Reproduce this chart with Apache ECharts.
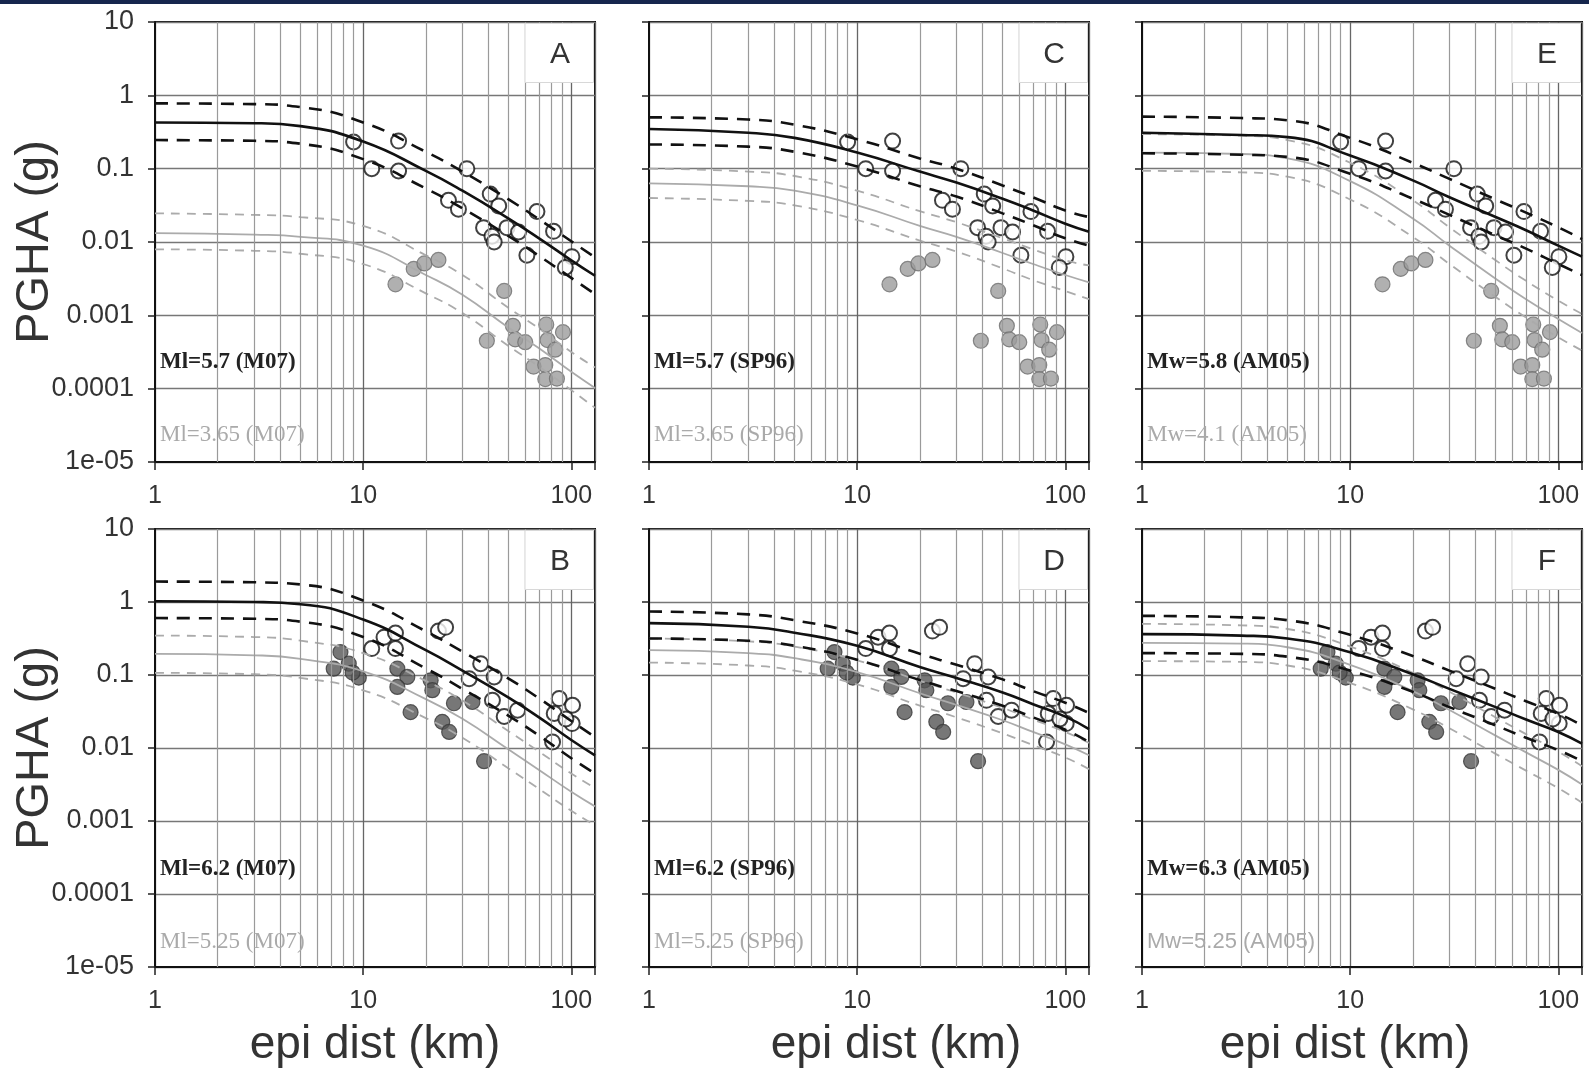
<!DOCTYPE html>
<html><head><meta charset="utf-8">
<script src="https://cdn.jsdelivr.net/npm/echarts@6/dist/echarts.min.js"></script>
<style>html,body{margin:0;padding:0;background:#fff}#c{width:1589px;height:1069px}</style>
</head><body><div id="c"></div>
<script>
// ---------- axis / tick data ----------
const DIST = [1, 3, 5, 10, 20, 30, 50, 70, 100, 130];           // km, where curves were read
const MINOR_X = [2, 3, 4, 5, 6, 7, 8, 9, 20, 30, 40, 50, 60, 70, 80, 90];
const X_TICKS = ['1', '10', '100'];
const Y_TICKS = ['10', '1', '0.1', '0.01', '0.001', '0.0001', '1e-05'];

// ---------- prediction curves: log10(PGHA [g]) at DIST ----------
// Panel A (M07, Ml=5.7 black / Ml=3.65 gray)
const A_blk_up  = [-0.11, -0.12, -0.16, -0.37, -0.77, -1.04, -1.42, -1.69, -1.99, -2.21];
const A_blk_mid = [-0.37, -0.38, -0.42, -0.63, -1.03, -1.30, -1.68, -1.95, -2.25, -2.46];
const A_blk_lo  = [-0.61, -0.62, -0.66, -0.87, -1.27, -1.54, -1.92, -2.19, -2.49, -2.71];
const A_gry_up  = [-1.61, -1.63, -1.66, -1.78, -2.18, -2.45, -2.90, -3.18, -3.50, -3.71];
const A_gry_mid = [-1.88, -1.90, -1.93, -2.05, -2.45, -2.72, -3.17, -3.45, -3.77, -3.99];
const A_gry_lo  = [-2.10, -2.12, -2.16, -2.30, -2.70, -2.97, -3.42, -3.70, -4.02, -4.26];
// Panel B (M07, Ml=6.2 / Ml=5.25)
const B_blk_up  = [0.28, 0.27, 0.24, 0.02, -0.40, -0.68, -1.05, -1.32, -1.63, -1.85];
const B_blk_mid = [0.01, 0.00, -0.03, -0.24, -0.66, -0.94, -1.31, -1.58, -1.89, -2.10];
const B_blk_lo  = [-0.22, -0.23, -0.27, -0.48, -0.91, -1.19, -1.56, -1.83, -2.14, -2.35];
const B_gry_up  = [-0.46, -0.48, -0.53, -0.70, -1.08, -1.35, -1.77, -2.05, -2.35, -2.55];
const B_gry_mid = [-0.71, -0.73, -0.78, -0.95, -1.33, -1.60, -2.02, -2.30, -2.60, -2.80];
const B_gry_lo  = [-0.97, -0.99, -1.04, -1.21, -1.59, -1.86, -2.28, -2.56, -2.86, -3.06];
// Panel C (SP96, Ml=5.7 / Ml=3.65)
const C_blk_up  = [-0.30, -0.33, -0.40, -0.60, -0.86, -1.00, -1.23, -1.39, -1.57, -1.66];
const C_blk_mid = [-0.46, -0.51, -0.58, -0.78, -1.04, -1.19, -1.41, -1.57, -1.75, -1.86];
const C_blk_lo  = [-0.67, -0.70, -0.77, -0.97, -1.24, -1.38, -1.61, -1.77, -1.95, -2.05];
const C_gry_up  = [-1.00, -1.04, -1.10, -1.30, -1.58, -1.73, -1.95, -2.10, -2.25, -2.32];
const C_gry_mid = [-1.20, -1.24, -1.30, -1.50, -1.78, -1.93, -2.15, -2.30, -2.45, -2.55];
const C_gry_lo  = [-1.40, -1.44, -1.50, -1.70, -1.98, -2.13, -2.36, -2.52, -2.67, -2.78];
// Panel D (SP96, Ml=6.2 / Ml=5.25)
const D_blk_up  = [-0.13, -0.17, -0.25, -0.43, -0.71, -0.86, -1.06, -1.22, -1.38, -1.52];
const D_blk_mid = [-0.29, -0.34, -0.42, -0.60, -0.89, -1.04, -1.24, -1.40, -1.57, -1.74];
const D_blk_lo  = [-0.50, -0.53, -0.60, -0.79, -1.07, -1.22, -1.42, -1.58, -1.75, -1.92];
const D_gry_up  = [-0.50, -0.54, -0.61, -0.80, -1.08, -1.24, -1.45, -1.61, -1.78, -1.93];
const D_gry_mid = [-0.66, -0.70, -0.77, -0.96, -1.25, -1.41, -1.62, -1.78, -1.95, -2.10];
const D_gry_lo  = [-0.83, -0.87, -0.94, -1.13, -1.42, -1.58, -1.80, -1.96, -2.13, -2.29];
// Panel E (AM05, Mw=5.8 / Mw=4.1)
const E_blk_up  = [-0.29, -0.31, -0.34, -0.58, -0.92, -1.14, -1.42, -1.60, -1.80, -1.96];
const E_blk_mid = [-0.51, -0.54, -0.57, -0.82, -1.16, -1.39, -1.66, -1.84, -2.05, -2.20];
const E_blk_lo  = [-0.79, -0.81, -0.84, -1.07, -1.41, -1.63, -1.91, -2.09, -2.30, -2.45];
const E_gry_up  = [-0.53, -0.55, -0.61, -0.92, -1.43, -1.80, -2.25, -2.53, -2.80, -2.98];
const E_gry_mid = [-0.78, -0.80, -0.86, -1.17, -1.68, -2.05, -2.50, -2.78, -3.05, -3.24];
const E_gry_lo  = [-1.03, -1.05, -1.11, -1.42, -1.93, -2.30, -2.75, -3.03, -3.30, -3.48];
// Panel F (AM05, Mw=6.3 / Mw=5.25)
const F_blk_up  = [-0.19, -0.21, -0.25, -0.45, -0.74, -0.94, -1.19, -1.36, -1.53, -1.69];
const F_blk_mid = [-0.44, -0.46, -0.50, -0.69, -0.99, -1.19, -1.44, -1.61, -1.78, -1.94];
const F_blk_lo  = [-0.70, -0.71, -0.75, -0.94, -1.23, -1.44, -1.69, -1.86, -2.03, -2.18];
const F_gry_up  = [-0.30, -0.32, -0.37, -0.61, -0.97, -1.23, -1.58, -1.81, -2.05, -2.25];
const F_gry_mid = [-0.56, -0.57, -0.62, -0.86, -1.22, -1.48, -1.83, -2.06, -2.30, -2.50];
const F_gry_lo  = [-0.81, -0.82, -0.87, -1.11, -1.47, -1.73, -2.08, -2.31, -2.55, -2.75];

// ---------- observations (same events in every column of a row) ----------
const TOP_OPEN_D = [9.0, 14.8, 11.0, 14.8, 31.5, 25.7, 28.7, 40.8, 44.8, 37.9, 41.6, 42.6, 49.1, 55.8, 68.4, 82.2, 61.2, 100.7, 93.6];
const TOP_OPEN_V = [0.231, 0.238, 0.100, 0.093, 0.100, 0.037, 0.028, 0.045, 0.031, 0.0157, 0.012, 0.010, 0.0157, 0.0137, 0.026, 0.014, 0.0066, 0.0063, 0.0045];
const TOP_FILL_D = [14.3, 17.5, 19.7, 23.0, 47.6, 39.3, 52.4, 53.8, 60.1, 75.8, 91.2, 76.9, 83.7, 65.9, 75.0, 75.0, 85.3];
const TOP_FILL_V = [0.00265, 0.0043, 0.0051, 0.0057, 0.00215, 0.00045, 0.00072, 0.00047, 0.00043, 0.00075, 0.00059, 0.00046, 0.00034, 0.0002, 0.00021, 0.000135, 0.000137];
const BOT_OPEN_D = [23.0, 24.9, 12.6, 14.3, 11.0, 14.3, 36.7, 32.3, 42.6, 41.8, 47.6, 55.2, 87.5, 101.4, 82.8, 101, 94.2, 81.3];
const BOT_OPEN_V = [0.40, 0.45, 0.33, 0.375, 0.23, 0.23, 0.143, 0.089, 0.094, 0.045, 0.027, 0.033, 0.0475, 0.0385, 0.0297, 0.0216, 0.025, 0.0121];
const BOT_FILL_D = [7.78, 7.22, 8.53, 9.53, 8.9, 14.6, 16.3, 14.6, 21.1, 21.5, 16.9, 27.3, 33.5, 24.0, 25.9, 38.1];
const BOT_FILL_V = [0.206, 0.122, 0.143, 0.092, 0.108, 0.122, 0.094, 0.0686, 0.0845, 0.062, 0.031, 0.041, 0.0427, 0.0228, 0.0166, 0.0066];

// ---------- layout ----------
const COL_LEFT = [155, 649, 1142];
const ROW_TOP = [22, 529];
const PW = 440, PH = 440;
const XNAME_SHIFT = [0, 27, -17];   // horizontal offset of the x-axis title per column

const PANELS = [
  {id:'A', col:0, row:0, blk:[A_blk_up, A_blk_mid, A_blk_lo], gry:[A_gry_up, A_gry_mid, A_gry_lo], t1:'Ml=5.7 (M07)',  t2:'Ml=3.65 (M07)'},
  {id:'B', col:0, row:1, blk:[B_blk_up, B_blk_mid, B_blk_lo], gry:[B_gry_up, B_gry_mid, B_gry_lo], t1:'Ml=6.2 (M07)',  t2:'Ml=5.25 (M07)'},
  {id:'C', col:1, row:0, blk:[C_blk_up, C_blk_mid, C_blk_lo], gry:[C_gry_up, C_gry_mid, C_gry_lo], t1:'Ml=5.7 (SP96)', t2:'Ml=3.65 (SP96)'},
  {id:'D', col:1, row:1, blk:[D_blk_up, D_blk_mid, D_blk_lo], gry:[D_gry_up, D_gry_mid, D_gry_lo], t1:'Ml=6.2 (SP96)', t2:'Ml=5.25 (SP96)'},
  {id:'E', col:2, row:0, blk:[E_blk_up, E_blk_mid, E_blk_lo], gry:[E_gry_up, E_gry_mid, E_gry_lo], t1:'Mw=5.8 (AM05)', t2:'Mw=4.1 (AM05)'},
  {id:'F', col:2, row:1, blk:[F_blk_up, F_blk_mid, F_blk_lo], gry:[F_gry_up, F_gry_mid, F_gry_lo], t1:'Mw=6.3 (AM05)', t2:'Mw=5.25 (AM05)', t2sans:true}
];

const curve = logs => DIST.map((d, i) => [d, Math.pow(10, logs[i])]);
const pts = (ds, vs) => ds.map((d, i) => [d, vs[i]]);
const isPow = v => Math.abs(Math.log10(v) - Math.round(Math.log10(v))) < 1e-6;
const xFmt = v => isPow(v) ? (X_TICKS[Math.round(Math.log10(v))] || '') : '';
const yFmt = v => isPow(v) ? (Y_TICKS[1 - Math.round(Math.log10(v))] || '') : '';

const SANS = '"Liberation Sans", Arial, sans-serif';
const SERIF = '"Liberation Serif", "Times New Roman", serif';

const grid = [], xAxis = [], yAxis = [], series = [], graphic = [];
graphic.push({type:'rect', left:0, top:0, z:100, shape:{width:1589, height:4}, style:{fill:'#16264d'}});

PANELS.forEach((p, i) => {
  const L = COL_LEFT[p.col], T = ROW_TOP[p.row];
  const sh = XNAME_SHIFT[p.col];
  grid.push({left:L, top:T, width:PW, height:PH, show:true, borderColor:'#111', borderWidth:2, backgroundColor:'#fff'});
  xAxis.push({
    type:'log', logBase:10, min:1, max:130, gridIndex:i,
    axisLine:{show:true, lineStyle:{color:'#111', width:2}},
    axisTick:{show:true, length:8, lineStyle:{color:'#222', width:1.5}},
    axisLabel:{formatter:xFmt, color:'#333', fontSize:25, fontFamily:SANS, margin:22},
    splitLine:{show:true, lineStyle:{color:'#666', width:1.3}},
    name: p.row === 1 ? 'epi dist (km)' : '',
    nameLocation:'middle', nameGap:55, nameMoveOverlap:false,
    nameTextStyle:{fontSize:46, color:'#333', fontFamily:SANS,
      padding: sh >= 0 ? [0, 0, 0, 2 * sh] : [0, -2 * sh, 0, 0]}
  });
  yAxis.push({
    type:'log', logBase:10, min:1e-5, max:10, splitNumber:6, gridIndex:i,
    axisLine:{show:true, lineStyle:{color:'#111', width:2}},
    axisTick:{show:true, length:7, lineStyle:{color:'#222', width:1.5}},
    axisLabel:{show:p.col === 0, formatter:yFmt, color:'#333', fontSize:27, fontFamily:SANS, margin:21},
    splitLine:{show:true, lineStyle:{color:'#777', width:1.3}},
    name: p.col === 0 ? 'PGHA (g)' : '',
    nameLocation:'middle', nameGap:96, nameMoveOverlap:false,
    nameTextStyle:{fontSize:47, color:'#333', fontFamily:SANS}
  });
  // minor vertical grid lines
  series.push({
    type:'line', xAxisIndex:i, yAxisIndex:i, data:[[1, 1e-5]], showSymbol:false, symbol:'none',
    lineStyle:{width:0}, z:1, silent:true,
    markLine:{silent:true, symbol:['none','none'], label:{show:false}, animation:false,
      lineStyle:{color:'#9a9a9a', width:1.2, type:'solid'},
      data: MINOR_X.map(v => ({xAxis:v}))}
  });
  const top = p.row === 0;
  series.push({
    type:'scatter', xAxisIndex:i, yAxisIndex:i, z:3, symbolSize:15,
    data: top ? pts(TOP_FILL_D, TOP_FILL_V) : pts(BOT_FILL_D, BOT_FILL_V),
    itemStyle: top ? {color:'#9c9c9c', borderColor:'#6e6e6e', borderWidth:1.2}
                   : {color:'#555', borderColor:'#3a3a3a', borderWidth:1.2}
  });
  series.push({
    type:'scatter', xAxisIndex:i, yAxisIndex:i, z:3, symbolSize:15,
    data: top ? pts(TOP_OPEN_D, TOP_OPEN_V) : pts(BOT_OPEN_D, BOT_OPEN_V),
    itemStyle:{color:'#fff', borderColor:'#111', borderWidth:2}
  });
  const addCurve = (logs, color, width, dashed, z) => series.push({
    type:'line', xAxisIndex:i, yAxisIndex:i, data:curve(logs), smooth:0.5,
    showSymbol:false, symbol:'none', z:z, silent:true,
    lineStyle:{color:color, width:width, type: dashed ? dashed : 'solid'}
  });
  addCurve(p.gry[0], '#ababab', 1.8, [9, 7], 4);
  addCurve(p.gry[1], '#ababab', 1.8, null, 4);
  addCurve(p.gry[2], '#ababab', 1.8, [9, 7], 4);
  addCurve(p.blk[0], '#111', 2.6, [13, 9], 5);
  addCurve(p.blk[1], '#111', 2.6, null, 5);
  addCurve(p.blk[2], '#111', 2.6, [13, 9], 5);

  // panel letter box
  graphic.push({type:'rect', z:50, shape:{x:L + PW - 70, y:T + 1.5, width:68.5, height:59},
    style:{fill:'#fff', stroke:'#d8d8d8', lineWidth:1}});
  graphic.push({type:'text', z:51, x:L + PW - 35, y:T + 33,
    style:{text:p.id, fill:'#333', font:'30px ' + SANS, align:'center', verticalAlign:'middle'}});
  // magnitude labels
  graphic.push({type:'text', z:51, x:L + 5, y:T + 340,
    style:{text:p.t1, fill:'#222', font:'bold 23px ' + SERIF, align:'left', verticalAlign:'middle'}});
  graphic.push({type:'text', z:51, x:L + 5, y:T + 413,
    style:{text:p.t2, fill:'#aaa', font:(p.t2sans ? '22px ' + SANS : '23px ' + SERIF), align:'left', verticalAlign:'middle'}});
});

const chart = echarts.init(document.getElementById('c'), null, {renderer:'canvas'});
chart.setOption({animation:false, backgroundColor:'#fff', grid, xAxis, yAxis, series, graphic});
</script>
</body></html>
